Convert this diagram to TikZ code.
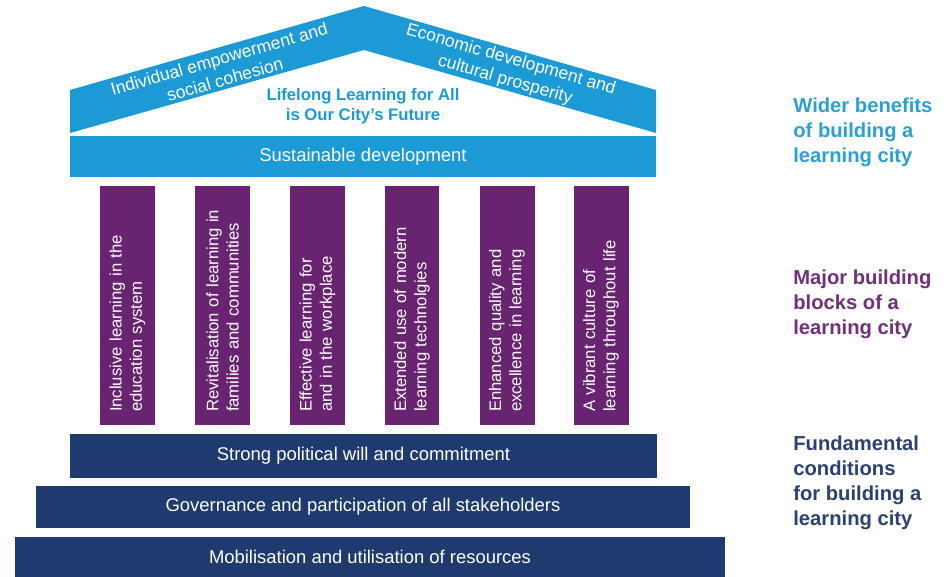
\documentclass[tikz,border=0pt]{standalone}
\usepackage{fontspec}
\setmainfont{Liberation Sans}
\usetikzlibrary{positioning}

\definecolor{roofblue}{RGB}{27,154,214}
\definecolor{pillarpurple}{RGB}{104,36,112}
\definecolor{basenavy}{RGB}{31,58,110}
\definecolor{labelblue}{RGB}{44,160,212}
\definecolor{labelpurple}{RGB}{112,48,122}
\definecolor{labelnavy}{RGB}{44,64,114}

\tikzset{
  pillar/.style={rotate=90, fill=pillarpurple, text=white, minimum height=1.1cm,
    inner xsep=0.26cm, inner ysep=0pt, text width=4.26cm, align=left,
    font=\fontsize{9.5}{11.5}\selectfont},
  band/.style={fill=#1, text=white, inner sep=0pt, font=\fontsize{10.5}{12}\selectfont},
  rooftext/.style={text=white, align=center, inner sep=0pt, font=\fontsize{10}{12}\selectfont},
  side/.style={anchor=west, align=left, inner sep=0pt, text=#1,
    font=\bfseries\fontsize{11.5}{14.2}\selectfont}
}

\begin{document}
\begin{tikzpicture}[x=0.02cm,y=-0.02cm]

\useasboundingbox [fill=white] (0,0) rectangle (947,577);

\coordinate (RL) at (70,133);
\coordinate (RT) at (70,90);
\coordinate (AP) at (364,6);
\coordinate (RR) at (656,90);
\coordinate (RB) at (656,133);
\coordinate (IN) at (364,50);

% roof
\fill [roofblue]
	(RL) -- (RT) -- (AP) -- (RR) -- (RB) -- (IN) -- cycle;

\node (indiv) at (222,69) [rooftext, rotate=16]{Individual empowerment and\\social cohesion};
\node (econ) at (508,70) [rooftext, rotate=-16]{Economic development and\\cultural prosperity};
\node (motto) at (363,106) [text=roofblue, align=center, inner sep=0pt,
	font=\bfseries\fontsize{9.5}{11.5}\selectfont]{Lifelong Learning for All\\is Our City's Future};

\node (sustain) at (363,156.5) [band=roofblue, minimum width=11.72cm, minimum height=0.82cm]{Sustainable development};

% pillars
\node (p1) at (127.5,305.5) [pillar]{Inclusive learning in the\\education system};
\node (p2) at (222.5,305.5) [pillar]{Revitalisation of learning in\\families and communities};
\node (p3) at (317.5,305.5) [pillar]{Effective learning for\\and in the workplace};
\node (p4) at (412,305.5) [pillar]{Extended use of modern\\learning technolgies};
\node (p5) at (507,305.5) [pillar]{Enhanced quality and\\excellence in learning};
\node (p6) at (601,305.5) [pillar]{A vibrant culture of\\learning throughout life};

% foundations
\node (will) at (363.5,456) [band=basenavy, minimum width=11.74cm, minimum height=0.88cm]{Strong political will and commitment};
\node (gov) at (363,507) [band=basenavy, minimum width=13.08cm, minimum height=0.84cm]{Governance and participation of all stakeholders};
\node (mob) at (370,557) [band=basenavy, minimum width=14.2cm, minimum height=0.8cm]{Mobilisation and utilisation of resources};

% labels
\node (wider) at (793,132) [side=labelblue]{Wider benefits\\of building a\\learning city};
\node (major) at (793,304) [side=labelpurple]{Major building\\blocks of a\\learning city};
\node (fund) at (793,483) [side=labelnavy]{Fundamental\\conditions\\for building a\\learning city};

\end{tikzpicture}
\end{document}
